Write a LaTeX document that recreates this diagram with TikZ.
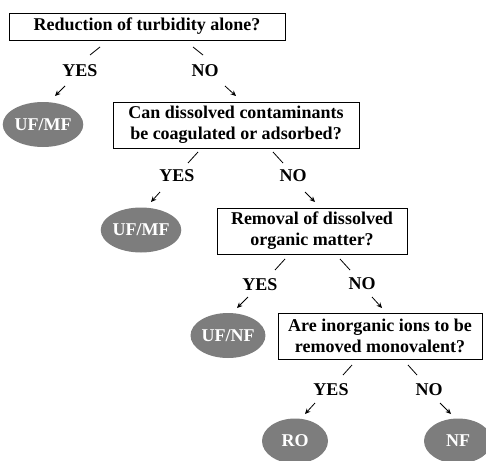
\documentclass[tikz,border=0pt]{standalone}
\usepackage{fontspec}
\setmainfont{Liberation Serif}
\usetikzlibrary{shapes.geometric,arrows.meta}
\definecolor{ellgray}{RGB}{125,125,125}
\tikzset{
  qbox/.style={draw, line width=0.9pt, align=center, inner sep=0pt,
    font=\bfseries\fontsize{18}{21}\selectfont},
  res/.style={ellipse, fill=ellgray, text=white, inner sep=0pt,
    minimum width=68pt, minimum height=45pt,
    font=\bfseries\fontsize{18}{20}\selectfont},
  lbl/.style={inner sep=0pt, font=\bfseries\fontsize{18}{20}\selectfont},
  seg/.style={line width=0.8pt},
  arr/.style={line width=0.8pt, -{Stealth[length=5.5pt,width=5pt]}}
}
\begin{document}
\begin{tikzpicture}[x=1pt,y=-1pt]
\useasboundingbox (0,0) rectangle (486,460);
\clip (0,0) rectangle (486,460);
% decision boxes
\node[qbox, minimum width=276pt, minimum height=27pt] (q1) at (147,26.5) {Reduction of turbidity alone?};
\node[qbox, minimum width=246pt, minimum height=46pt] (q2) at (236,125) {Can dissolved contaminants\\be coagulated or adsorbed?};
\node[qbox, minimum width=190pt, minimum height=46pt] (q3) at (312,231) {Removal of dissolved\\organic matter?};
\node[qbox, minimum width=204pt, minimum height=46pt] (q4) at (380,336) {Are inorganic ions to be\\removed monovalent?};
% results
\node[res] (r1) at (43,124.5) {UF/MF};
\node[res] (r2) at (141,230) {UF/MF};
\node[res] (r3) at (228,335.5) {UF/NF};
\node[res, minimum width=66pt] (r4) at (295,441) {RO};
\node[res] (r5) at (458,441) {NF};
% labels
\node[lbl] (y1) at (80,71) {YES};
\node[lbl] (n1) at (205,71) {NO};
\node[lbl] (y2) at (177,176) {YES};
\node[lbl] (n2) at (293,176) {NO};
\node[lbl] (y3) at (260,285) {YES};
\node[lbl] (n3) at (362,284) {NO};
\node[lbl] (y4) at (331,390) {YES};
\node[lbl] (n4) at (429,390) {NO};
% connector end points
\coordinate (a1) at (100,47); \coordinate (a2) at (90,55);
\coordinate (a3) at (193,47); \coordinate (a4) at (203,55);
\coordinate (a5) at (65,86); \coordinate (a6) at (55,96);
\coordinate (a7) at (225,86); \coordinate (a8) at (236,96);
\coordinate (b1) at (198,152); \coordinate (b2) at (188,163);
\coordinate (b3) at (273,152); \coordinate (b4) at (283,163);
\coordinate (b5) at (160,192); \coordinate (b6) at (151,202);
\coordinate (b7) at (305,192); \coordinate (b8) at (315,202);
\coordinate (c1) at (285,259); \coordinate (c2) at (275,270);
\coordinate (c3) at (340,259); \coordinate (c4) at (350,270);
\coordinate (c5) at (248,297); \coordinate (c6) at (237,308);
\coordinate (c7) at (372,297); \coordinate (c8) at (382,308);
\coordinate (d1) at (352,365); \coordinate (d2) at (343,375);
\coordinate (d3) at (408,365); \coordinate (d4) at (417,375);
\coordinate (d5) at (315,403); \coordinate (d6) at (305,414);
\coordinate (d7) at (440,403); \coordinate (d8) at (451,414);
% connectors
\draw[seg] (a1) -- (a2); \draw[seg] (a3) -- (a4);
\draw[arr] (a5) -- (a6); \draw[arr] (a7) -- (a8);
\draw[seg] (b1) -- (b2); \draw[seg] (b3) -- (b4);
\draw[arr] (b5) -- (b6); \draw[arr] (b7) -- (b8);
\draw[seg] (c1) -- (c2); \draw[seg] (c3) -- (c4);
\draw[arr] (c5) -- (c6); \draw[arr] (c7) -- (c8);
\draw[seg] (d1) -- (d2); \draw[seg] (d3) -- (d4);
\draw[arr] (d5) -- (d6); \draw[arr] (d7) -- (d8);
\end{tikzpicture}
\end{document}
